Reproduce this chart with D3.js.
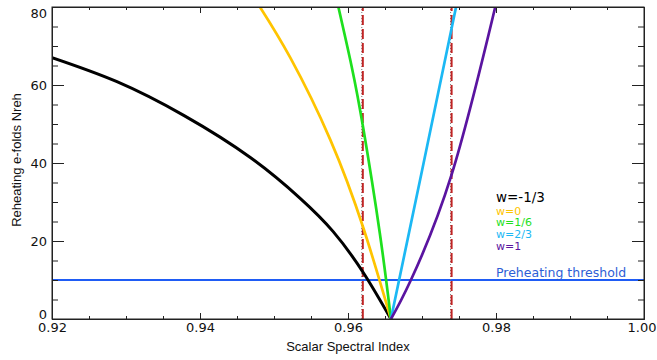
<!DOCTYPE html>
<html lang="en">
<head>
  <meta charset="utf-8">
  <title>Reheating e-folds vs scalar spectral index</title>
  <script src="https://d3js.org/d3.v7.min.js"></script>
  <style>
    body { margin: 0; background: #fff; }
    .tick text { font-family: "DejaVu Sans", sans-serif; font-size: 13px; fill: #111; }
    .title { font-family: "Liberation Sans", Arial, sans-serif; font-size: 13px; fill: #111; }
    .legend { font-family: "DejaVu Sans", sans-serif; font-size: 11px; }
  </style>
</head>
<body>
  <script type="text/javascript">
  // tick values
  var xMajor = [0.92, 0.94, 0.96, 0.98, 1.00];
  var yMajor = [0, 20, 40, 60, 80];

  // curves (ns, N_reh)
  var nsBlack  = [0.920, 0.9287, 0.9378, 0.9468, 0.9535, 0.9580, 0.9621, 0.9658];
  var nBlack   = [67, 60.9, 52.2, 41.4, 31, 22.4, 11.8, 0];
  var nsYellow = [0.9481, 0.9522, 0.9576, 0.9621, 0.9658];
  var nYellow  = [80, 67, 46, 23.2, 0];
  var nsGreen  = [0.9587, 0.9605, 0.9621, 0.9643, 0.9658];
  var nGreen   = [80, 64.7, 48.5, 22, 0];
  var nsCyan   = [0.9658, 0.9700, 0.9746];
  var nCyan    = [0, 38, 80];
  var nsPurple = [0.9658, 0.9685, 0.9740, 0.9799];
  var nPurple  = [0, 10, 37, 80];

  var wLabels = ['w=-1/3', 'w=0', 'w=1/6', 'w=2/3', 'w=1'];
  var wColors = ['#000000', '#ffc400', '#1ee01e', '#1cb8f4', '#5a14a0'];

  var nsObserved = [0.962, 0.974];
  var nThreshold = 10;
  var thresholdLabel = 'Preheating threshold';

  var w = 657, h = 360;
  var margin = {top: 7, right: 13, bottom: 41, left: 52};

  var svg = d3.select('body').append('svg')
      .attr('width', w)
      .attr('height', h);

  var x = d3.scaleLinear().domain([0.92, 1.00]).range([margin.left, w - margin.right]);
  var y = d3.scaleLinear().domain([0, 80]).range([h - margin.bottom, margin.top]);

  svg.append('clipPath').attr('id', 'plot')
    .append('rect')
      .attr('x', x(0.92)).attr('y', y(80))
      .attr('width', x(1.00) - x(0.92)).attr('height', y(0) - y(80));

  // threshold line
  svg.append('line')
    .attr('x1', x(0.92)).attr('x2', x(1.00))
    .attr('y1', y(nThreshold)).attr('y2', y(nThreshold))
    .style('stroke', '#1f5cf5').style('stroke-width', 2);

  // observational bounds: grey dots beside red dashes
  nsObserved.forEach(function(v) {
    svg.append('line')
      .attr('x1', x(v) - 1).attr('x2', x(v) - 1).attr('y1', y(0)).attr('y2', y(80))
      .style('stroke', '#777').style('stroke-width', 1).style('stroke-dasharray', '1,2');
    svg.append('line')
      .attr('x1', x(v)).attr('x2', x(v)).attr('y1', y(0)).attr('y2', y(80))
      .style('stroke', '#c02424').style('stroke-width', 2).style('stroke-dasharray', '10,4');
  });

  var line = d3.line()
    .x(function(d) { return x(d[0]); })
    .y(function(d) { return y(d[1]); })
    .curve(d3.curveNatural);

  var curves = [
    [nsBlack, nBlack], [nsYellow, nYellow], [nsGreen, nGreen],
    [nsCyan, nCyan], [nsPurple, nPurple]
  ];
  var g = svg.append('g').attr('clip-path', 'url(#plot)');
  curves.forEach(function(c, i) {
    g.append('path')
      .datum(d3.zip(c[0], c[1]))
      .style('fill', 'none')
      .style('stroke', wColors[i])
      .style('stroke-width', i === 0 ? 3 : 2.7)
      .style('stroke-linejoin', 'round')
      .attr('d', line);
  });

  // axes, ticks inward on all four sides
  var xMinor = d3.range(0.92, 1.0001, 0.005);
  var yMinor = d3.range(0, 80.001, 5);
  function fmt(d) { return d3.format('.2f')(d); }

  svg.append('g').attr('transform', 'translate(0,' + y(0) + ')')
    .call(d3.axisBottom(x).tickValues(xMinor).tickSizeInner(-3).tickSizeOuter(0).tickFormat(''));
  var xAxis = svg.append('g').attr('transform', 'translate(0,' + y(0) + ')')
    .call(d3.axisBottom(x).tickValues(xMajor).tickSizeInner(-6).tickSizeOuter(0).tickPadding(4).tickFormat(fmt));
  svg.append('g').attr('transform', 'translate(0,' + y(80) + ')')
    .call(d3.axisTop(x).tickValues(xMinor).tickSizeInner(-3).tickSizeOuter(0).tickFormat(''));
  svg.append('g').attr('transform', 'translate(0,' + y(80) + ')')
    .call(d3.axisTop(x).tickValues(xMajor).tickSizeInner(-6).tickSizeOuter(0).tickFormat(''));

  svg.append('g').attr('transform', 'translate(' + x(0.92) + ',0)')
    .call(d3.axisLeft(y).tickValues(yMinor).tickSizeInner(-6).tickSizeOuter(0).tickFormat(''));
  var yAxis = svg.append('g').attr('transform', 'translate(' + x(0.92) + ',0)')
    .call(d3.axisLeft(y).tickValues(yMajor).tickSizeInner(-12).tickSizeOuter(0).tickPadding(5));
  svg.append('g').attr('transform', 'translate(' + x(1.00) + ',0)')
    .call(d3.axisRight(y).tickValues(yMinor).tickSizeInner(-6).tickSizeOuter(0).tickFormat(''));
  svg.append('g').attr('transform', 'translate(' + x(1.00) + ',0)')
    .call(d3.axisRight(y).tickValues(yMajor).tickSizeInner(-12).tickSizeOuter(0).tickFormat(''));

  // end labels sit inside the frame / window
  yAxis.selectAll('.tick text').attr('y', function(d) {
    return d === 0 ? -5 : (d === 80 ? 6 : 0);
  });
  xAxis.selectAll('.tick text').filter(function(d) { return d === 1.00; })
    .attr('text-anchor', 'end').attr('x', w - 1 - x(1.00));
  svg.selectAll('.domain').style('stroke', '#222');
  svg.selectAll('.tick line').style('stroke', '#222');

  svg.append('rect')
    .attr('x', x(0.92)).attr('y', y(80))
    .attr('width', x(1.00) - x(0.92)).attr('height', y(0) - y(80))
    .style('fill', 'none').style('stroke', '#222');

  svg.append('text').attr('class', 'title')
    .attr('x', (x(0.92) + x(1.00)) / 2).attr('y', 351)
    .attr('text-anchor', 'middle')
    .text('Scalar Spectral Index');
  svg.append('text').attr('class', 'title')
    .attr('transform', 'translate(21,' + ((y(0) + y(80)) / 2 - 3) + ') rotate(-90)')
    .attr('text-anchor', 'middle')
    .text('Reheating e-folds Nreh');

  // legend
  var legend = svg.append('g').attr('transform', 'translate(496,202)');
  legend.selectAll('text').data(wLabels).enter().append('text')
    .attr('class', 'legend')
    .attr('y', function(d, i) { return i === 0 ? 0 : 1 + i * 11.7; })
    .style('font-size', function(d, i) { return i === 0 ? '13.5px' : '11px'; })
    .style('fill', function(d, i) { return wColors[i]; })
    .text(function(d) { return d; });

  svg.append('text').attr('class', 'legend')
    .attr('x', 496).attr('y', y(nThreshold) - 3)
    .style('font-size', '12.5px')
    .style('fill', '#2d5ed6')
    .text(thresholdLabel);
  </script>
</body>
</html>
